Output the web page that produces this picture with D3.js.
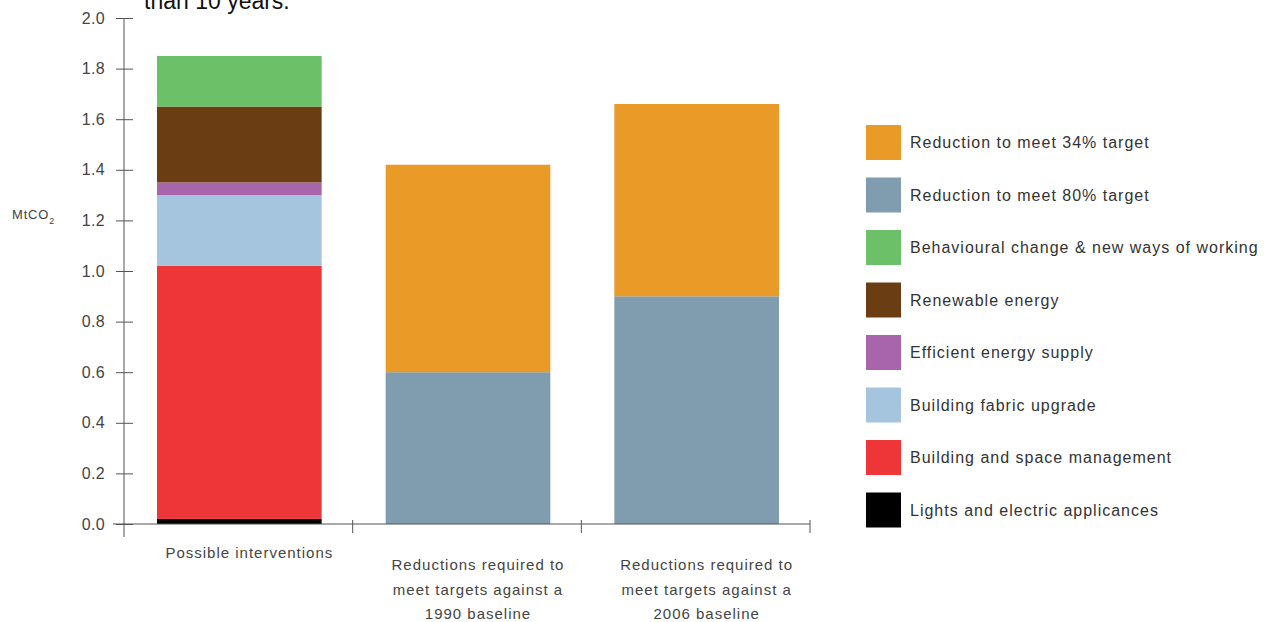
<!DOCTYPE html>
<html><head><meta charset="utf-8">
<script src="https://cdn.jsdelivr.net/npm/d3@7"></script>
<style>
body{margin:0;background:#fff;}
text{font-family:"Liberation Sans",Arial,sans-serif;}
</style></head>
<body>
<svg id="chart" width="1273" height="622"></svg>
<script>
const categories = ["Possible interventions",
  "Reductions required to|meet targets against a|1990 baseline",
  "Reductions required to|meet targets against a|2006 baseline"];
const seriesNames = ["Lights and electric applicances","Building and space management","Building fabric upgrade",
  "Efficient energy supply","Renewable energy","Behavioural change & new ways of working",
  "Reduction to meet 80% target","Reduction to meet 34% target"];
const seriesColors = ["#000000","#EE3639","#A5C4DE","#A865AC","#6A3D13","#6CC068","#7F9DAF","#E99A27"];
// values per series for each category
const lights      = [0.02, 0, 0];
const buildSpace  = [1.00, 0, 0];
const fabric      = [0.28, 0, 0];
const efficient   = [0.05, 0, 0];
const renewable   = [0.30, 0, 0];
const behavioural = [0.20, 0, 0];
const target80    = [0, 0.60, 0.90];
const target34    = [0, 0.82, 0.76];
const legendOrder = ["Reduction to meet 34% target","Reduction to meet 80% target",
  "Behavioural change & new ways of working","Renewable energy","Efficient energy supply",
  "Building fabric upgrade","Building and space management","Lights and electric applicances"];
const yTicks = [0,0.2,0.4,0.6,0.8,1.0,1.2,1.4,1.6,1.8,2.0];

const seriesVals = [lights,buildSpace,fabric,efficient,renewable,behavioural,target80,target34];
const table = categories.map((c,i)=>{const o={cat:c}; seriesNames.forEach((s,j)=>o[s]=seriesVals[j][i]); return o;});
const stack = d3.stack().keys(seriesNames)(table);

const svg = d3.select("#chart");
const x = d3.scaleBand().domain(categories).range([124,810]).padding(0);
const y = d3.scaleLinear().domain([0,2]).range([524,18]);
const color = d3.scaleOrdinal().domain(seriesNames).range(seriesColors);
const barW = x.bandwidth()*0.72;

// partial title at top (cut off in the original)
svg.append("text").attr("x",144).attr("y",9).attr("font-size",23).attr("fill","#111").text("than 10 years.");

// bars
svg.append("g").selectAll("g").data(stack).join("g").attr("fill",d=>color(d.key))
  .selectAll("rect").data(d=>d.filter(p=>p[1]-p[0]>0)).join("rect")
  .attr("x",d=>x(d.data.cat)+x.bandwidth()/2-barW/2+1)
  .attr("width",barW)
  .attr("y",d=>y(d[1]))
  .attr("height",d=>y(d[0])-y(d[1]));

// y axis
const ya = svg.append("g").attr("transform","translate(124,0)")
  .call(d3.axisLeft(y).tickValues(yTicks).tickFormat(d3.format(".1f")).tickSize(7).tickPadding(12));
ya.select(".domain").attr("d","M0,18V537").attr("stroke","#555");
ya.selectAll(".tick line").attr("x1",-8).attr("x2",9).attr("stroke","#555");
ya.selectAll(".tick text").attr("font-size",16).attr("fill","#444").attr("letter-spacing",0.3)
  .attr("font-family","Liberation Sans,Arial,sans-serif");

// x axis
const xa = svg.append("g").attr("transform","translate(0,524)");
xa.append("line").attr("x1",113).attr("x2",810).attr("stroke","#555");
xa.selectAll("line.t").data(categories).join("line").attr("class","t")
  .attr("x1",d=>x(d)+x.bandwidth()).attr("x2",d=>x(d)+x.bandwidth())
  .attr("y1",-4).attr("y2",9).attr("stroke","#555");
xa.selectAll("text").data(categories).join("text")
  .attr("text-anchor","middle").attr("font-size",15).attr("fill","#444").attr("letter-spacing",1)
  .attr("transform",(d,i)=>`translate(${x(d)+x.bandwidth()/2+11},${i===0?34:46})`)
  .each(function(d){
    const lines=d.split("|");
    d3.select(this).selectAll("tspan").data(lines).join("tspan")
      .attr("x",0).attr("dy",(l,k)=>k===0?0:24.5).text(l=>l);
  });

// y label
const yl = svg.append("text").attr("x",12).attr("y",219).attr("font-size",13).attr("fill","#444").attr("letter-spacing",0.8);
yl.append("tspan").text("MtCO");
yl.append("tspan").attr("font-size",9).attr("dy",5).text("2");

// legend
const lg = svg.append("g").selectAll("g").data(legendOrder).join("g")
  .attr("transform",(d,i)=>`translate(866,${125+i*52.5})`);
lg.append("rect").attr("width",35).attr("height",35).attr("fill",d=>color(d));
lg.append("text").attr("x",44).attr("y",23).attr("font-size",16).attr("letter-spacing",1)
  .attr("fill","#333").text(d=>d);
</script>
</body></html>
